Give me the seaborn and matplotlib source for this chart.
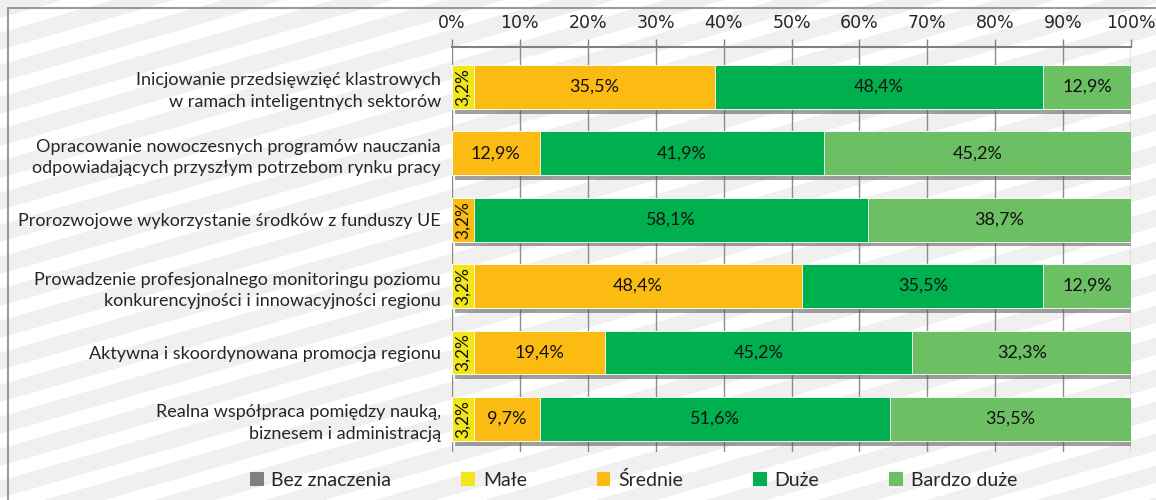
import numpy as np
import pandas as pd
import matplotlib
matplotlib.use("Agg")
import matplotlib.pyplot as plt
import matplotlib.patheffects as pe
from matplotlib.patches import Patch
from matplotlib.lines import Line2D
import seaborn as sns

categories = [
    "Inicjowanie przedsięwzięć klastrowych\nw ramach inteligentnych sektorów",
    "Opracowanie nowoczesnych programów nauczania\nodpowiadających przyszłym potrzebom rynku pracy",
    "Prorozwojowe wykorzystanie środków z funduszy UE",
    "Prowadzenie profesjonalnego monitoringu poziomu\nkonkurencyjności i innowacyjności regionu",
    "Aktywna i skoordynowana promocja regionu",
    "Realna współpraca pomiędzy nauką,\nbiznesem i administracją",
]
series_names = ["Bez znaczenia", "Małe", "Średnie", "Duże", "Bardzo duże"]
bez = [0.0, 0.0, 0.0, 0.0, 0.0, 0.0]
male = [3.2, 0.0, 0.0, 3.2, 3.2, 3.2]
srednie = [35.5, 12.9, 3.2, 48.4, 19.4, 9.7]
duze = [48.4, 41.9, 58.1, 35.5, 45.2, 51.6]
bardzo = [12.9, 45.2, 38.7, 12.9, 32.3, 35.5]
tick_values = [0, 10, 20, 30, 40, 50, 60, 70, 80, 90, 100]
tick_labels = [f"{v}%" for v in tick_values]
colors = ["#7f7f7f", "#f2e61a", "#fbbb12", "#00b04f", "#6dbf64"]

series = [bez, male, srednie, duze, bardzo]
vals = np.array(series)           # (5, 6)
cum = np.cumsum(vals, axis=0)

sns.set_theme(style="white")
plt.rcParams["font.family"] = ["Lato", "DejaVu Sans"]

W, H = 1156, 500
fig = plt.figure(figsize=(W / 100, H / 100), dpi=100)
fig.patch.set_facecolor("white")

# striped background
yy, xx = np.mgrid[0:H, 0:W]
phase = ((yy + 0.29 * xx) % 32) / 32.0
bg = np.where(phase < 0.55, 0.945, 1.0)
img = np.dstack([bg, bg, bg])
fig.figimage(img, 0, 0, zorder=0, origin="upper")

# frame lines
fig.add_artist(Line2D([8 / W, 8 / W], [0, 1 - 8 / H], transform=fig.transFigure, color="#9a9a9a", lw=1.5, zorder=1))
fig.add_artist(Line2D([8 / W, 1], [1 - 8 / H, 1 - 8 / H], transform=fig.transFigure, color="#9a9a9a", lw=1.5, zorder=1))

ax = fig.add_axes([452 / W, 1 - 452 / H, (1131 - 452) / W, (452 - 47) / H])
ax.set_zorder(3)
ax.patch.set_alpha(0)

# draw cumulative layers from widest to narrowest
for k in range(len(series) - 1, -1, -1):
    df = pd.DataFrame({"cat": categories, "val": cum[k]})
    n_before = len(ax.patches)
    sns.barplot(data=df, x="val", y="cat", orient="h", color=colors[k], width=0.66,
                saturation=1, ax=ax, edgecolor="white", linewidth=0.6, zorder=3)
    if k == len(series) - 1:
        for p in ax.patches[n_before:]:
            p.set_path_effects([pe.SimplePatchShadow(offset=(2.5, -3.5), shadow_rgbFace="#555555", alpha=0.55),
                                pe.Normal()])

# value labels
for i in range(len(categories)):
    for k in range(len(series)):
        v = vals[k, i]
        if v <= 0:
            continue
        center = cum[k, i] - v / 2
        txt = f"{v:.1f}%".replace(".", ",")
        if v < 5:
            ax.text(center, i, txt, rotation=90, ha="center", va="center", fontsize=12.5,
                    color="#111111", zorder=5)
        else:
            ax.text(center, i, txt, ha="center", va="center", fontsize=13,
                    color="#111111", zorder=5)

ax.set_xlim(0, 100)
ax.set_ylim(5.5, -0.6)
ax.xaxis.tick_top()
ax.set_xticks(tick_values)
ax.set_xticklabels(tick_labels, fontsize=12.5, family=["Liberation Sans Narrow", "DejaVu Sans"])
ax.tick_params(axis="x", direction="out", length=6, width=1, color="#808080", pad=5, top=True, bottom=False)
ax.tick_params(axis="y", length=0, pad=8)
ax.set_yticks(range(len(categories)))
ax.set_yticklabels(categories, fontsize=13, linespacing=1.4)
ax.set_xlabel("")
ax.set_ylabel("")
ax.grid(axis="x", color="#8c8c8c", linewidth=1, zorder=1)
ax.set_axisbelow(True)
for s in ["left", "right", "bottom"]:
    ax.spines[s].set_visible(False)
ax.spines["top"].set_color("#808080")
ax.spines["top"].set_linewidth(1.5)

handles = [Patch(facecolor=c, edgecolor="none") for c in colors]
leg = fig.legend(handles, series_names, loc="center", bbox_to_anchor=(0.548, 0.04), ncol=5,
                 frameon=False, fontsize=14, handlelength=0.7, handleheight=0.7,
                 handletextpad=0.4, columnspacing=3.6)
leg.set_zorder(4)

fig.savefig("out.png", dpi=100)
